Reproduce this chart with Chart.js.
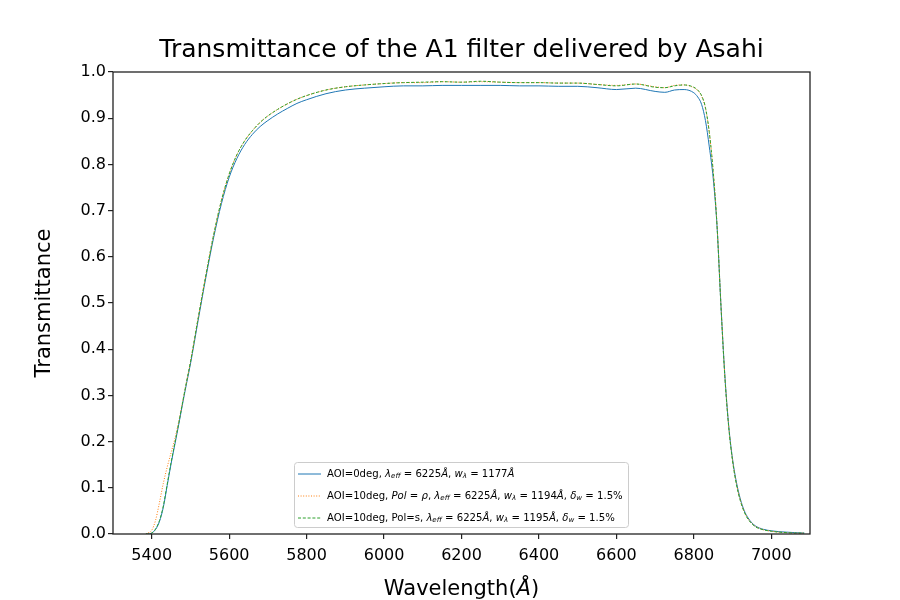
<!DOCTYPE html>
<html>
<head>
<meta charset="utf-8">
<script src="https://cdn.jsdelivr.net/npm/chart.js@4.4.0/dist/chart.umd.min.js"></script>
<style>
    body { margin: 0; background: #fff; }
    #wrap { width: 900px; height: 600px; }
</style>
</head>
<body>
<div id="wrap"><canvas id="filterChart"></canvas></div>
<script>
// Sample data
const wavelengths = [5385, 5390, 5400, 5410, 5420, 5430, 5440, 5450, 5460, 5470, 5480, 5490, 5500, 5520, 5540, 5560, 5580, 5600, 5620, 5640,
    5660, 5680, 5700, 5725, 5750, 5775, 5800, 5850, 5900, 5950, 6000, 6050, 6100, 6150, 6200, 6250, 6300, 6350, 6400, 6450,
    6500, 6550, 6600, 6650, 6700, 6725, 6750, 6775, 6800, 6810, 6820, 6830, 6840, 6850, 6860, 6870, 6880, 6890, 6900, 6910,
    6920, 6930, 6940, 6950, 6960, 6980, 7000, 7020, 7040, 7060, 7085];

const aoi0 = [0.000, 0.000, 0.002, 0.010, 0.027, 0.058, 0.105, 0.152, 0.195, 0.238, 0.283, 0.326, 0.368, 0.463, 0.556, 0.642, 0.715, 0.772, 0.813, 0.843,
    0.865, 0.882, 0.895, 0.909, 0.921, 0.932, 0.940, 0.953, 0.961, 0.965, 0.968, 0.970, 0.970, 0.971, 0.971, 0.971, 0.971, 0.970, 0.970, 0.969,
    0.969, 0.966, 0.962, 0.965, 0.958, 0.956, 0.961, 0.962, 0.955, 0.946, 0.930, 0.895, 0.838, 0.770, 0.665, 0.495, 0.345, 0.235, 0.162, 0.112,
    0.076, 0.051, 0.035, 0.024, 0.017, 0.010, 0.007, 0.005, 0.004, 0.003, 0.002];

const aoi10P = [0.000, 0.002, 0.008, 0.030, 0.068, 0.110, 0.145, 0.176, 0.207, 0.244, 0.287, 0.330, 0.372, 0.468, 0.561, 0.648, 0.722, 0.779, 0.821, 0.851,
    0.873, 0.891, 0.905, 0.919, 0.931, 0.941, 0.949, 0.961, 0.968, 0.972, 0.975, 0.977, 0.977, 0.979, 0.978, 0.979, 0.978, 0.977, 0.977, 0.976,
    0.976, 0.973, 0.971, 0.974, 0.968, 0.966, 0.971, 0.972, 0.966, 0.960, 0.948, 0.922, 0.868, 0.785, 0.668, 0.497, 0.344, 0.234, 0.160, 0.109,
    0.074, 0.049, 0.033, 0.023, 0.016, 0.009, 0.006, 0.004, 0.003, 0.002, 0.002];

const aoi10S = [0.000, 0.000, 0.002, 0.011, 0.029, 0.061, 0.108, 0.155, 0.198, 0.241, 0.286, 0.330, 0.372, 0.468, 0.561, 0.648, 0.722, 0.779, 0.821, 0.851,
    0.873, 0.891, 0.905, 0.919, 0.931, 0.941, 0.949, 0.961, 0.968, 0.972, 0.975, 0.977, 0.978, 0.979, 0.978, 0.980, 0.978, 0.977, 0.977, 0.976,
    0.976, 0.973, 0.970, 0.974, 0.967, 0.966, 0.970, 0.972, 0.967, 0.961, 0.949, 0.923, 0.869, 0.785, 0.666, 0.494, 0.341, 0.232, 0.158, 0.107,
    0.072, 0.048, 0.032, 0.022, 0.015, 0.009, 0.006, 0.004, 0.003, 0.002, 0.002];

const xTicks = [5400, 5600, 5800, 6000, 6200, 6400, 6600, 6800, 7000];
const yTicks = [0, 0.1, 0.2, 0.3, 0.4, 0.5, 0.6, 0.7, 0.8, 0.9, 1.0];

// legend text pieces: [text, style]  n = normal, i = italic, s = italic subscript
const legendRows = [
    [['AOI=0deg, ', 'n'], ['λ', 'i'], ['eff', 's'], [' = 6225', 'n'], ['Å', 'i'], [', ', 'n'], ['w', 'i'], ['λ', 's'], [' = 1177', 'n'], ['Å', 'i']],
    [['AOI=10deg, ', 'n'], ['Pol', 'i'], [' = ', 'n'], ['ρ', 'i'], [', ', 'n'], ['λ', 'i'], ['eff', 's'], [' = 6225', 'n'], ['Å', 'i'], [', ', 'n'],
        ['w', 'i'], ['λ', 's'], [' = 1194', 'n'], ['Å', 'i'], [', ', 'n'], ['δ', 'i'], ['w', 's'], [' = 1.5%', 'n']],
    [['AOI=10deg, Pol=s, ', 'n'], ['λ', 'i'], ['eff', 's'], [' = 6225', 'n'], ['Å', 'i'], [', ', 'n'], ['w', 'i'], ['λ', 's'], [' = 1195', 'n'], ['Å', 'i'], [', ', 'n'],
        ['δ', 'i'], ['w', 's'], [' = 1.5%', 'n']]
];

const FONT = "'DejaVu Sans', sans-serif";
const lineColors = ['#1f77b4', '#ff7f0e', '#2ca02c'];
const lineDashes = [[], [1, 1.6], [3, 1.8]];

function toPoints(ys) {
    return wavelengths.map((w, i) => ({ x: w, y: ys[i] }));
}

function drawSegments(ctx, segs, x, y, size) {
    const sub = size * 0.7;
    segs.forEach(([t, st]) => {
        if (st === 's') {
            ctx.font = 'italic ' + sub + 'px ' + FONT;
            ctx.fillText(t, x, y + size * 0.22);
        } else {
            ctx.font = (st === 'i' ? 'italic ' : '') + size + 'px ' + FONT;
            ctx.fillText(t, x, y);
        }
        x += ctx.measureText(t).width;
    });
    return x;
}

function segWidth(ctx, segs, size) {
    let w = 0;
    segs.forEach(([t, st]) => {
        ctx.font = (st !== 'n' ? 'italic ' : '') + (st === 's' ? size * 0.7 : size) + 'px ' + FONT;
        w += ctx.measureText(t).width;
    });
    return w;
}

const decorPlugin = {
    id: 'decor',
    afterDraw(chart) {
        const ctx = chart.ctx;
        const a = chart.chartArea;
        ctx.save();

        // axes box
        ctx.strokeStyle = '#222';
        ctx.lineWidth = 1.3;
        ctx.strokeRect(a.left, a.top, a.right - a.left, a.bottom - a.top);

        ctx.fillStyle = '#000';
        ctx.textBaseline = 'middle';

        // title
        ctx.textAlign = 'center';
        ctx.font = '25px ' + FONT;
        ctx.fillText('Transmittance of the A1 filter delivered by Asahi', (a.left + a.right) / 2, 50);

        // x label with italic Angstrom
        ctx.textAlign = 'left';
        const xl = [['Wavelength(', 'n'], ['Å', 'i'], [')', 'n']];
        const xw = segWidth(ctx, xl, 21);
        drawSegments(ctx, xl, (a.left + a.right) / 2 - xw / 2, 590, 21);

        // y label
        ctx.save();
        ctx.translate(45, (a.top + a.bottom) / 2);
        ctx.rotate(-Math.PI / 2);
        ctx.textAlign = 'center';
        ctx.font = '21px ' + FONT;
        ctx.fillText('Transmittance', 0, 0);
        ctx.restore();

        // legend box
        const bx = 294, by = 462, bw = 334, bh = 65;
        ctx.fillStyle = 'rgba(255,255,255,0.8)';
        ctx.strokeStyle = '#cccccc';
        ctx.lineWidth = 1;
        ctx.beginPath();
        ctx.roundRect(bx + 0.5, by + 0.5, bw, bh, 3);
        ctx.fill();
        ctx.stroke();

        // fit legend font to the widest row
        let size = 10;
        const target = 296;
        size = size * target / segWidth(ctx, legendRows[1], size);

        const rowY = [474, 496, 518];
        ctx.textAlign = 'left';
        legendRows.forEach((segs, i) => {
            ctx.strokeStyle = lineColors[i];
            ctx.lineWidth = 1;
            ctx.setLineDash(lineDashes[i]);
            ctx.beginPath();
            ctx.moveTo(298, rowY[i]);
            ctx.lineTo(321, rowY[i]);
            ctx.stroke();
            ctx.setLineDash([]);
            ctx.fillStyle = '#000';
            drawSegments(ctx, segs, 327, rowY[i], size);
        });

        ctx.restore();
    }
};

function initializeFilterChart() {
    const ctx = document.getElementById('filterChart');
    const series = [aoi0, aoi10P, aoi10S];

    new Chart(ctx, {
        type: 'line',
        data: {
            datasets: series.map((ys, i) => ({
                data: toPoints(ys),
                borderColor: lineColors[i],
                borderWidth: 1,
                borderDash: lineDashes[i],
                pointRadius: 0,
                fill: false,
                cubicInterpolationMode: 'monotone',
                order: 3 - i
            }))
        },
        options: {
            responsive: true,
            maintainAspectRatio: false,
            animation: false,
            layout: { padding: { top: 72, right: 90, left: 0, bottom: 0 } },
            plugins: { legend: { display: false }, title: { display: false }, tooltip: { enabled: false } },
            scales: {
                x: {
                    type: 'linear',
                    min: 5300,
                    max: 7100,
                    afterBuildTicks: scale => { scale.ticks = xTicks.map(v => ({ value: v })); },
                    afterFit: scale => { scale.height = 66; },
                    grid: { drawOnChartArea: false, drawTicks: true, tickLength: 5, color: '#222', lineWidth: 1.2 },
                    border: { display: false },
                    ticks: { color: '#000', font: { family: FONT, size: 16 }, padding: 7, maxRotation: 0, callback: v => String(v) }
                },
                y: {
                    min: 0,
                    max: 1,
                    afterBuildTicks: scale => { scale.ticks = yTicks.map(v => ({ value: v })); },
                    afterFit: scale => { scale.width = 113; },
                    grid: { drawOnChartArea: false, drawTicks: true, tickLength: 5, color: '#222', lineWidth: 1.2 },
                    border: { display: false },
                    ticks: { color: '#000', font: { family: FONT, size: 16 }, padding: 2, callback: v => v.toFixed(1) }
                }
            }
        },
        plugins: [decorPlugin]
    });
}

document.addEventListener('DOMContentLoaded', function() {
    initializeFilterChart();
});
</script>
</body>
</html>
